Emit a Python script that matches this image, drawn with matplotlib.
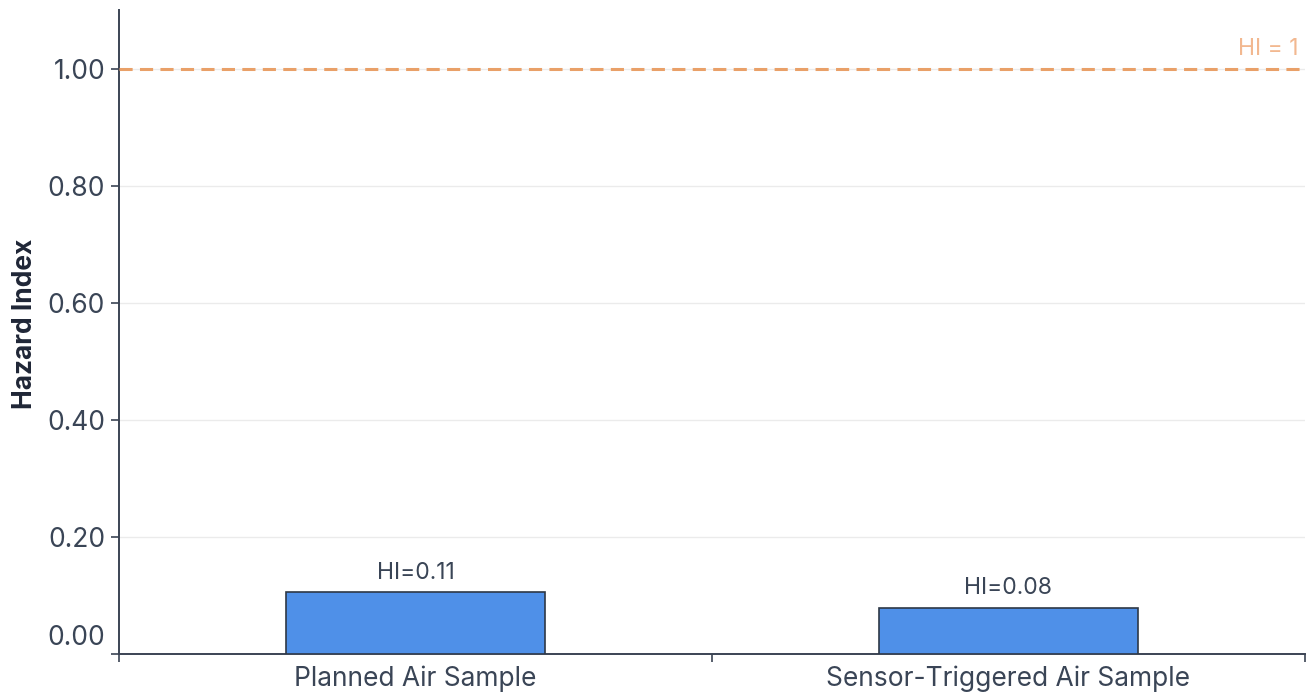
import matplotlib
matplotlib.use("Agg")
import matplotlib.pyplot as plt
from matplotlib.transforms import ScaledTranslation

categories = ["Planned Air Sample", "Sensor-Triggered Air Sample"]
hazard_index = [0.106, 0.079]
threshold = 1.0
y_ticks = [0.0, 0.2, 0.4, 0.6, 0.8, 1.0]

plt.rcParams['font.family'] = ['Inter', 'DejaVu Sans']

fig = plt.figure(figsize=(13.07, 6.92), dpi=100)
ax = fig.add_axes([119/1307, 1-654/692, (1305-119)/1307, (654-10)/692])

axis_col = "#3b4454"
text_col = "#3a4556"

x = list(range(len(categories)))
ax.bar(x, hazard_index, width=0.437, color="#4f90e8", edgecolor="#2e3846", linewidth=1.2, zorder=3)
for xi, v in zip(x, hazard_index):
    ax.annotate(f"HI={v:.2f}", (xi, v), xytext=(0, 6), textcoords="offset points",
                ha="center", va="bottom", fontsize=16.5, color=text_col)

ax.axhline(threshold, color="#e9a068", linestyle=(0, (4.3, 2.4)), linewidth=2.2, zorder=4)
ax.annotate("HI = 1", (1.0, threshold), xycoords=ax.get_yaxis_transform(),
            xytext=(-5, 6), textcoords="offset points", ha="right", va="bottom",
            fontsize=16.5, color="#f2b890")

ax.set_xlim(-0.5, 1.5)
ax.set_ylim(0, 1.1)
ax.set_yticks(y_ticks)
ax.set_yticklabels([f"{t:.2f}" for t in y_ticks])
ax.yaxis.grid(True, color="#ebebeb", linewidth=1, zorder=0)
ax.set_axisbelow(True)

ax.set_xticks(x)
ax.set_xticklabels(categories)
ax.set_xticks([-0.5, 0.5, 1.5], minor=True)
ax.tick_params(axis="x", which="major", length=0, pad=8, labelsize=19, labelcolor=text_col)
ax.tick_params(axis="x", which="minor", length=6, width=1.2, color=axis_col)
ax.tick_params(axis="y", length=6, width=1.2, color=axis_col, labelsize=19, labelcolor=text_col, pad=4)

# shift the 0.00 label upward as in the reference
fig.canvas.draw()
lbl0 = ax.get_yticklabels()[0]
lbl0.set_transform(lbl0.get_transform() + ScaledTranslation(0, 19/100, fig.dpi_scale_trans))

for s in ["top", "right"]:
    ax.spines[s].set_visible(False)
for s in ["left", "bottom"]:
    ax.spines[s].set_color(axis_col)
    ax.spines[s].set_linewidth(1.4)

ax.set_ylabel("Hazard Index", fontsize=19, fontweight="bold", color="#1f2636")
ax.yaxis.set_label_coords(-0.0683, 0.512)

fig.savefig("out.png", dpi=100)
